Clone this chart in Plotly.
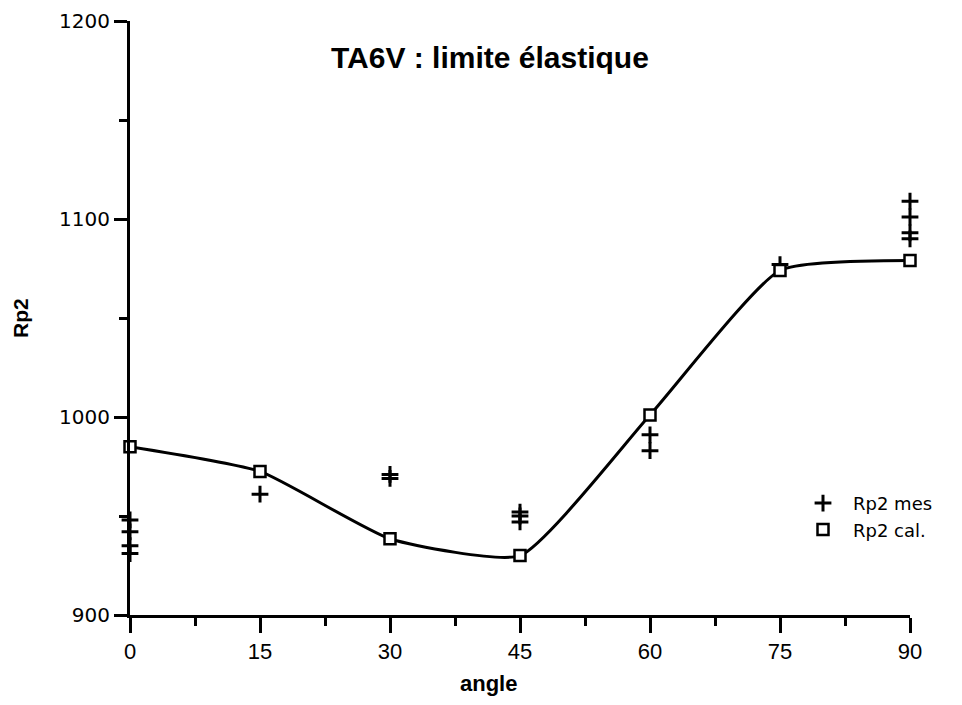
import plotly.graph_objects as go

# Measured values (Rp2 mes) - several measurements per angle
mes_angle = [0, 0, 0, 0, 15, 30, 30, 45, 45, 45, 60, 60, 75, 90, 90, 90, 90]
mes_rp2 = [948, 942, 935, 931, 961, 971, 969, 952, 950, 947, 991, 983, 1077, 1109, 1101, 1093, 1090]

# Calculated values (Rp2 cal.)
cal_angle = [0, 15, 30, 45, 60, 75, 90]
cal_rp2 = [985, 972.5, 938.5, 930, 1001, 1074, 1079]

x_ticks = [0, 15, 30, 45, 60, 75, 90]
y_ticks = [900, 1000, 1100, 1200]

FONT = "Liberation Sans, Arial, sans-serif"
WIDE = "DejaVu Sans, Verdana, sans-serif"

fig = go.Figure()

# smooth curve through calculated points
fig.add_trace(go.Scatter(
    x=cal_angle, y=cal_rp2, mode="lines",
    line=dict(color="black", width=3, shape="spline", smoothing=0.5),
    showlegend=False, hoverinfo="skip", cliponaxis=False,
))

fig.add_trace(go.Scatter(
    x=mes_angle, y=mes_rp2, mode="markers", name="Rp2 mes",
    marker=dict(symbol="cross-thin", size=12, color="black",
                line=dict(color="black", width=3)),
    cliponaxis=False,
))

fig.add_trace(go.Scatter(
    x=cal_angle, y=cal_rp2, mode="markers", name="Rp2 cal.",
    marker=dict(symbol="square", size=11, color="white",
                line=dict(color="black", width=2.5)),
    cliponaxis=False,
))

fig.update_layout(
    width=962, height=705,
    margin=dict(l=122, r=60, t=13, b=98, autoexpand=False),
    paper_bgcolor="white", plot_bgcolor="white",
    font=dict(family=FONT, size=20, color="black"),
    legend=dict(x=0.850, y=0.219, xanchor="left", yanchor="top",
                font=dict(size=18, family=WIDE), itemwidth=50,
                bgcolor="rgba(0,0,0,0)", tracegroupgap=0),
    xaxis=dict(range=[0, 90], tickvals=x_ticks, ticktext=[str(v) for v in x_ticks],
               automargin=False,
               showgrid=False, zeroline=False, showline=True, linecolor="black",
               linewidth=3, ticks="outside", ticklen=15, tickwidth=2.5,
               tickcolor="black", tickfont=dict(size=22, family=FONT),
               minor=dict(tickvals=[7.5, 22.5, 37.5, 52.5, 67.5, 82.5],
                          ticks="outside", ticklen=8, tickwidth=2.5, tickcolor="black")),
    yaxis=dict(range=[900, 1200], tickvals=y_ticks, ticktext=[str(v) for v in y_ticks],
               automargin=False,
               showgrid=False, zeroline=False, showline=True, linecolor="black",
               linewidth=3, ticks="outside", ticklen=13, tickwidth=2.5,
               tickcolor="black", tickfont=dict(size=20, family=WIDE),
               minor=dict(tickvals=[950, 1050, 1150],
                          ticks="outside", ticklen=8, tickwidth=2.5, tickcolor="black")),
    annotations=[
        dict(text="<b>TA6V : limite élastique</b>", x=0.4615, y=0.939,
             xref="paper", yref="paper", xanchor="center", yanchor="middle",
             showarrow=False, font=dict(size=30, family=FONT)),
        dict(text="<b>angle</b>", x=0.459, y=-0.1145, xref="paper", yref="paper",
             xanchor="center", yanchor="middle",
             showarrow=False, font=dict(size=22, family=FONT)),
        dict(text="<b>Rp2</b>", x=-0.141, y=0.50, xref="paper", yref="paper",
             xanchor="center", yanchor="middle",
             showarrow=False, textangle=-90, font=dict(size=21, family=FONT)),
    ],
)

fig.write_html("out.html")
